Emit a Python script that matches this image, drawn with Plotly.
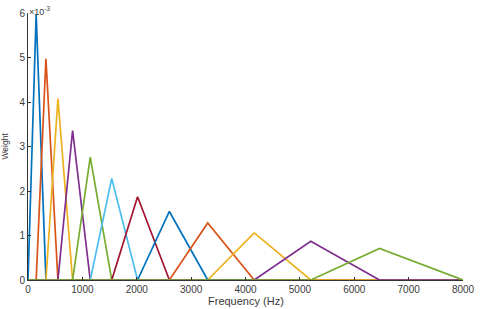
import plotly.graph_objects as go

# Filter edge frequencies (Hz)
edges = [0, 150, 330, 550, 820, 1145, 1540, 2015, 2600, 3305, 4160, 5200, 6465, 8000]
# Peak weights (x 1e-3)
peaks = [5.97, 4.97, 4.08, 3.36, 2.76, 2.28, 1.87, 1.54, 1.28, 1.06, 0.87, 0.71]
colors = ["#0072BD", "#D95319", "#EDB120", "#7E2F8E", "#77AC30", "#4DBEEE", "#A2142F",
          "#0072BD", "#D95319", "#EDB120", "#7E2F8E", "#77AC30"]
x_ticks = [0, 1000, 2000, 3000, 4000, 5000, 6000, 7000, 8000]
y_ticks = [0, 1, 2, 3, 4, 5, 6]

fig = go.Figure()
for i, p in enumerate(peaks):
    xs = [edges[0]]
    ys = [0]
    for k, e in enumerate(edges[1:], start=1):
        xs.append(e)
        if k == i + 1:
            ys.append(p * 1e-3)
        else:
            ys.append(0)
    fig.add_trace(go.Scatter(x=xs, y=ys, mode="lines",
                             line=dict(color=colors[i], width=1.7),
                             showlegend=False, hoverinfo="skip"))

txt = "#3a3a3a"
font = dict(family="Liberation Sans, Arial, sans-serif", size=10, color=txt)
fig.update_layout(
    width=480, height=309,
    margin=dict(l=28, r=17, t=13, b=29),
    paper_bgcolor="white", plot_bgcolor="white",
    font=font,
    xaxis=dict(range=[0, 8000], tickvals=x_ticks, ticktext=[str(v) for v in x_ticks],
               automargin=False,
               showgrid=False, zeroline=False, showline=True, linecolor="#333333",
               linewidth=1, ticks="inside", ticklen=3, tickcolor="#333333",
               tickfont=dict(size=10, color=txt)),
    yaxis=dict(range=[0, 0.006], tickvals=[v * 1e-3 for v in y_ticks],
               ticktext=[str(v) for v in y_ticks], automargin=False,
               showgrid=False, zeroline=False, showline=True, linecolor="#333333",
               linewidth=1, ticks="inside", ticklen=3, tickcolor="#333333",
               tickfont=dict(size=10, color=txt)),
    annotations=[
        dict(text="\u00d710<sup>-3</sup>", x=0, y=1, xref="paper", yref="paper",
             xanchor="left", yanchor="bottom", showarrow=False,
             font=dict(size=9, color=txt), yshift=-6, xshift=-1),
        dict(text="Frequency (Hz)", x=0.5, y=0, xref="paper", yref="paper",
             xanchor="center", yanchor="top", showarrow=False,
             font=dict(size=11, color=txt), yshift=-13),
        dict(text="Weight", x=0, y=0.5, xref="paper", yref="paper",
             xanchor="right", yanchor="middle", showarrow=False, textangle=-90,
             font=dict(size=8.5, color=txt), xshift=-17),
    ],
)
fig.write_html("out.html", config={"displayModeBar": False},
               post_script="document.body.style.margin='0';document.body.style.padding='0';")
